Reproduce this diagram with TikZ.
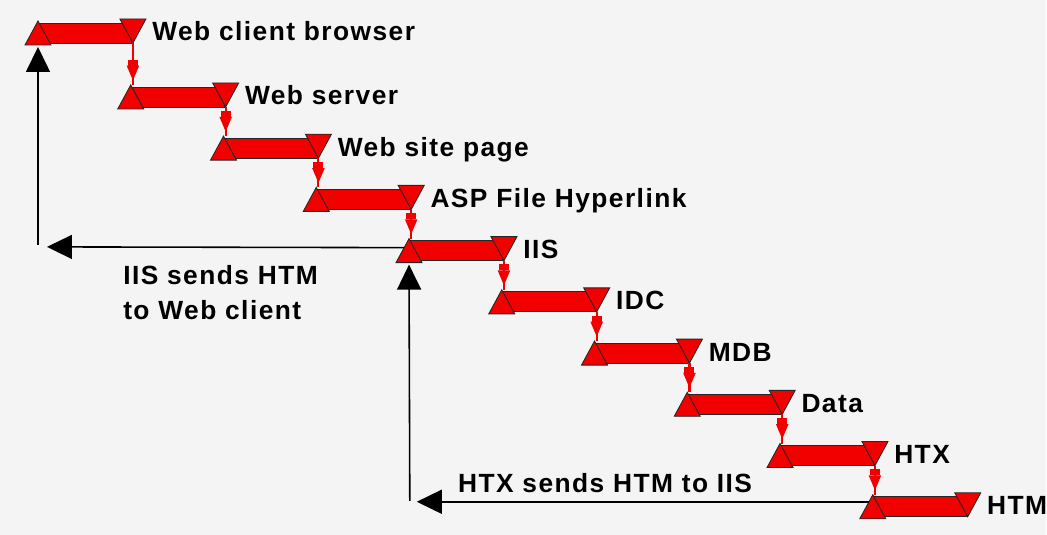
\documentclass[tikz,border=0pt]{standalone}
\usepackage{fontspec}
\setmainfont{Liberation Sans}
\newfontfamily\lblfont{Liberation Sans}[LetterSpace=5.5]
\usetikzlibrary{arrows.meta,decorations.markings}
\definecolor{paper}{RGB}{244,244,244}
\definecolor{barred}{RGB}{242,0,0}
\tikzset{
  bar/.style={rectangle, fill=barred, draw=black!85, line width=.5pt,
    minimum width=1.88cm, minimum height=.4cm, inner sep=0pt, outer sep=0pt},
  tri/.style={fill=barred, draw=black!85, line width=.5pt, line join=miter},
  lbl/.style={font=\lblfont\bfseries\fontsize{15}{20}\selectfont,
    inner sep=0pt, anchor=base west},
  feed/.style={barred, line width=1.2pt, postaction={decorate},
    decoration={markings, mark=at position -2.5pt with
      {\arrow{Rectangle[length=1.2mm,width=2mm,sep=0pt]Triangle[length=3mm,width=2.4mm]}}}},
  back/.style={line width=.9pt, -{Triangle[length=5mm,width=4.8mm]}}
}
\begin{document}
\begin{tikzpicture}[x=0.02cm, y=-0.02cm]
\fill[paper] (0,0) rectangle (1047,535);
% free ends of the return paths
\coordinate (hl) at (47,247);
\coordinate (vb) at (38,245);
\coordinate (hb) at (417,502);
\coordinate (vc) at (410,501);
% the steps
\foreach \name [count=\i] in {Web client browser, Web server, Web site page,
    ASP File Hyperlink, IIS, IDC, MDB, Data, HTX, HTM}{
  \pgfmathsetmacro{\bx}{85+92.8*(\i-1)}
  \pgfmathsetmacro{\by}{\i==1 ? 33 : 97+51.25*(\i-2)}
  \node[bar] (s\i) at (\bx,\by) {};
  \draw[tri] ([shift={(0,-2)}]s\i.north west) coordinate (in\i)
    -- ++(13,24) -- ++(-26,0) -- cycle;
  \draw[tri] ([shift={(-12,-4)}]s\i.north east) -- ++(26,0)
    -- ++(-13,24) coordinate (out\i) -- cycle;
  \node[lbl] (t\i) at ([shift={(20,18)}]s\i.north east) {\name};
}
\foreach \i [count=\j from 2] in {1,...,9}
  \draw[feed] (out\i) -- (out\i |- in\j);
% return paths
\draw[back] ([shift={(-5,-3)}]s5.west) -- (hl);
\draw[back] (vb) -- ([shift={(0,4)}]s1.south west);
\draw[back] ([shift={(-4,-5)}]s10.west) -- (hb);
\draw[back] (vc) -- ([shift={(0,4)}]s5.south west);
\node[lbl, align=left] (n1) at (123,320) {IIS sends HTM\\to Web client};
\node[lbl] (n2) at (458,493) {HTX sends HTM to IIS};
\end{tikzpicture}
\end{document}
